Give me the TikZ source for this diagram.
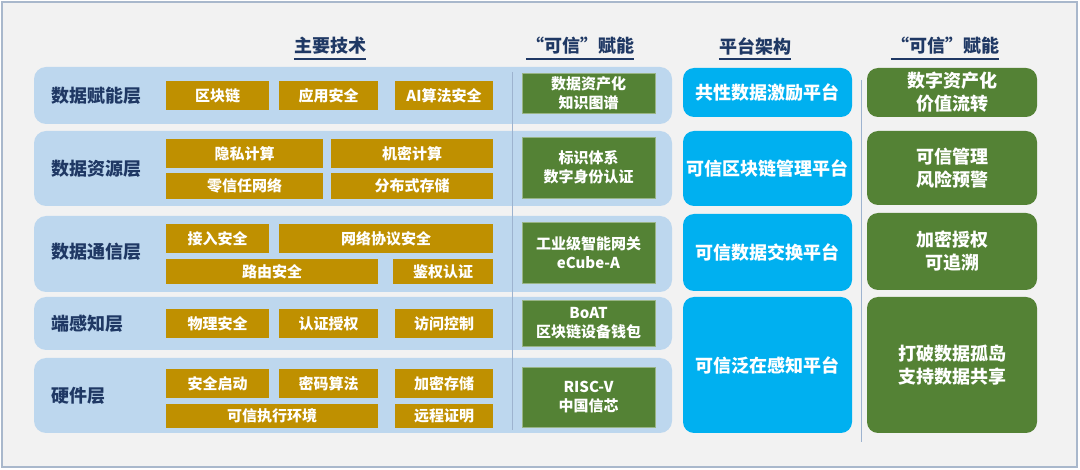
\documentclass[tikz,border=0pt]{standalone}
\usepackage{fontspec}
\setmainfont{Noto Sans CJK SC}
\definecolor{navy}{HTML}{1F3864}
\definecolor{goldc}{HTML}{BF9000}
\definecolor{greenc}{HTML}{548235}
\definecolor{bluec}{HTML}{00B0F0}
\definecolor{rowc}{HTML}{BDD7EE}
\definecolor{bgc}{HTML}{F2F2F2}
\definecolor{framec}{HTML}{A9B8CC}
\definecolor{sepc}{HTML}{9DB3CF}
\tikzset{
  rowbg/.style={fill=rowc, rounded corners=12pt, inner sep=0pt},
  gold/.style={fill=goldc, text=white, inner sep=0pt, font=\bfseries\fontsize{15}{18}\selectfont},
  midgreen/.style={fill=greenc, draw=greenc!60!white, line width=0.6pt, text=white, inner sep=0pt, align=center, font=\bfseries\fontsize{15}{19}\selectfont, minimum width=133pt},
  plat/.style={fill=bluec, text=white, rounded corners=11pt, inner sep=0pt, align=center, font=\bfseries\fontsize{18}{22}\selectfont, minimum width=169pt},
  rgreen/.style={fill=greenc, text=white, rounded corners=11pt, inner sep=0pt, align=center, font=\bfseries\fontsize{18}{23}\selectfont, minimum width=170pt},
  rowlabel/.style={text=navy, anchor=west, inner sep=0pt, font=\bfseries\fontsize{18}{22}\selectfont},
  header/.style={text=navy, inner sep=0pt, font=\bfseries\fontsize{18}{22}\selectfont},
  uline/.style={navy, line width=1.4pt},
  sep/.style={sepc, line width=0.8pt}
}
\begin{document}
\begin{tikzpicture}[x=1pt,y=-1pt]
\useasboundingbox (0,0) rectangle (1080,470);
\fill[white] (0,0) rectangle (1080,470);
\node[fill=bgc, draw=framec, line width=1.2pt, inner sep=0pt, minimum width=1075pt, minimum height=465pt] (frame) at (539.5,234.5) {};

% headers
\node[header] (h1) at (330,46) {主要技术};
\node[header] (h2) at (580,46) {“可信”赋能};
\node[header] (h3) at (755,46) {平台架构};
\node[header] (h4) at (945,46) {“可信”赋能};
\foreach \h in {h1,h2,h3,h4}{
  \draw[uline] ([yshift=-4pt]\h.south west) -- ([yshift=-4pt]\h.south east);
}

% row backgrounds
\node[rowbg, minimum width=638pt, minimum height=57pt] (r1) at (353,95.5) {};
\node[rowbg, minimum width=638pt, minimum height=75pt] (r2) at (353,168.5) {};
\node[rowbg, minimum width=638pt, minimum height=76pt] (r3) at (353,254) {};
\node[rowbg, minimum width=638pt, minimum height=53pt] (r4) at (353,323.5) {};
\node[rowbg, minimum width=638pt, minimum height=75pt] (r5) at (353,395.5) {};

% separators
\coordinate (s1t) at (512,72);
\coordinate (s1b) at (512,430);
\coordinate (s2t) at (861,80);
\coordinate (s2b) at (861,442);
\draw[sep] (s1t) -- (s1b);
\draw[sep] (s2t) -- (s2b);

% row labels
\node[rowlabel] (l1) at (51,95.5) {数据赋能层};
\node[rowlabel] (l2) at (51,168.5) {数据资源层};
\node[rowlabel] (l3) at (51,252) {数据通信层};
\node[rowlabel] (l4) at (51,323.5) {端感知层};
\node[rowlabel] (l5) at (51,395.5) {硬件层};

% row 1
\node[gold, minimum width=103pt, minimum height=29pt] (g11) at (217.5,95.5) {区块链};
\node[gold, minimum width=99pt, minimum height=29pt] (g12) at (328.5,95.5) {应用安全};
\node[gold, minimum width=98pt, minimum height=29pt] (g13) at (444,95.5) {AI算法安全};
% row 2
\node[gold, minimum width=157pt, minimum height=29pt] (g21) at (244.5,153.5) {隐私计算};
\node[gold, minimum width=162pt, minimum height=29pt] (g22) at (412,153.5) {机密计算};
\node[gold, minimum width=157pt, minimum height=26pt] (g23) at (244.5,186) {零信任网络};
\node[gold, minimum width=162pt, minimum height=26pt] (g24) at (412,186) {分布式存储};
% row 3
\node[gold, minimum width=103pt, minimum height=29pt] (g31) at (217.5,238.5) {接入安全};
\node[gold, minimum width=214pt, minimum height=29pt] (g32) at (386,238.5) {网络协议安全};
\node[gold, minimum width=212pt, minimum height=25pt] (g33) at (272,271.5) {路由安全};
\node[gold, minimum width=100pt, minimum height=25pt] (g34) at (443,271.5) {鉴权认证};
% row 4
\node[gold, minimum width=103pt, minimum height=29pt] (g41) at (217.5,323.5) {物理安全};
\node[gold, minimum width=99pt, minimum height=29pt] (g42) at (328.5,323.5) {认证授权};
\node[gold, minimum width=98pt, minimum height=29pt] (g43) at (444,323.5) {访问控制};
% row 5
\node[gold, minimum width=103pt, minimum height=29pt] (g51) at (217.5,383.5) {安全启动};
\node[gold, minimum width=99pt, minimum height=29pt] (g52) at (328.5,383.5) {密码算法};
\node[gold, minimum width=98pt, minimum height=29pt] (g53) at (444,383.5) {加密存储};
\node[gold, minimum width=212pt, minimum height=24pt] (g54) at (272,416) {可信执行环境};
\node[gold, minimum width=98pt, minimum height=24pt] (g55) at (444,416) {远程证明};

% middle green
\node[midgreen, minimum height=40pt] (m1) at (588.5,93) {数据资产化\\知识图谱};
\node[midgreen, minimum height=61pt] (m2) at (588.5,167.5) {标识体系\\数字身份认证};
\node[midgreen, minimum height=61pt] (m3) at (588.5,252.5) {工业级智能网关\\eCube-A};
\node[midgreen, minimum height=46pt] (m4) at (588.5,323) {BoAT\\区块链设备钱包};
\node[midgreen, minimum height=60pt] (m5) at (588.5,397) {RISC-V\\中国信芯};

% platforms
\node[plat, minimum height=49pt] (p1) at (767.5,92.5) {共性数据激励平台};
\node[plat, minimum height=75pt] (p2) at (767.5,168.5) {可信区块链管理平台};
\node[plat, minimum height=77pt] (p3) at (767.5,252.5) {可信数据交换平台};
\node[plat, minimum height=136pt] (p4) at (767.5,365) {可信泛在感知平台};

% right green
\node[rgreen, minimum height=49pt] (q1) at (952,92.5) {数字资产化\\价值流转};
\node[rgreen, minimum height=74pt] (q2) at (952,168) {可信管理\\风险预警};
\node[rgreen, minimum height=77pt] (q3) at (952,251.5) {加密授权\\可追溯};
\node[rgreen, minimum height=136pt] (q4) at (952,365) {打破数据孤岛\\支持数据共享};
\end{tikzpicture}
\end{document}
